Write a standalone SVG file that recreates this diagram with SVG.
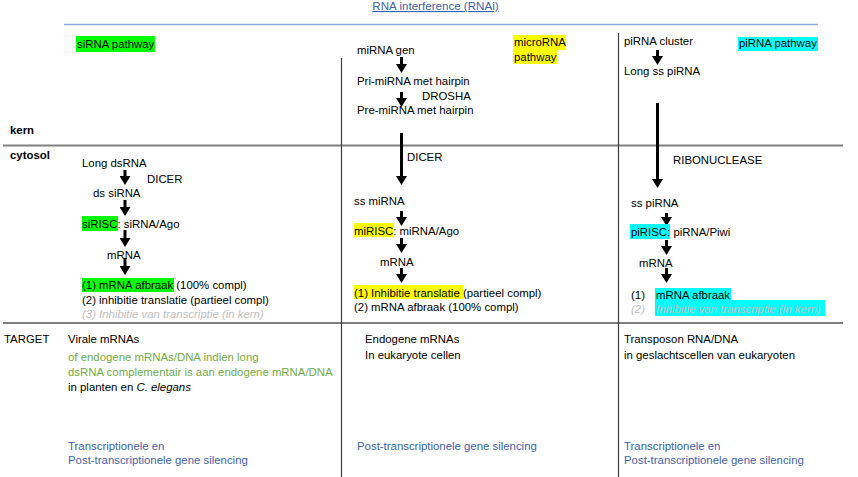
<svg xmlns="http://www.w3.org/2000/svg" width="858" height="477" viewBox="0 0 858 477">
<defs>
<style>
text{font-family:"Liberation Sans",Arial,sans-serif;font-size:11.4px;fill:#000}
.b{font-weight:bold}
.gi{font-style:italic;fill:#BFBFBF}
.gr{fill:#70AD47}
.bl{fill:#3E63AE}
.hg{fill:#00FF00}.hy{fill:#FFFF00}.hc{fill:#00FFFF}
.grid{stroke:#808080;fill:none}
.vgrid{stroke:#3F3F3F;fill:none}
.arr{stroke:#000;stroke-width:3;fill:none}
</style>
<marker id="ah" markerUnits="userSpaceOnUse" viewBox="0 0 9 11" markerWidth="9" markerHeight="11" refX="0" refY="5.5" orient="auto">
<path d="M0,0 L9,5.5 L0,11 Z" fill="#000"/>
</marker>
</defs>
<rect width="858" height="477" fill="#fff"/>
<g id="grid">
<line x1="64" y1="24.5" x2="818" y2="24.5" stroke="#8FAADC" stroke-width="1.5"/>
<line class="grid" x1="3" y1="145.5" x2="843" y2="145.5" stroke-width="2"/>
<line class="grid" x1="3" y1="323" x2="843" y2="323" stroke-width="2"/>
<line class="vgrid" x1="341.5" y1="58" x2="341.5" y2="477" stroke-width="1.2"/>
<line class="vgrid" x1="618.5" y1="33" x2="618.5" y2="477" stroke-width="1.2"/>
</g>
<g id="title">
<text x="435.5" y="10" text-anchor="middle" style="fill:#3E63AE;font-size:11.6px" text-decoration="underline">RNA interference (RNAi)</text>
</g>
<g id="row-labels">
<text class="b" x="10" y="134">kern</text>
<text class="b" x="10" y="159">cytosol</text>
<text x="4" y="343">TARGET</text>
</g>
<g id="connectors">
<line class="arr" x1="125" y1="170" x2="125" y2="176" marker-end="url(#ah)"/>
<line class="arr" x1="125" y1="200" x2="125" y2="207" marker-end="url(#ah)"/>
<line class="arr" x1="125" y1="230" x2="125" y2="238" marker-end="url(#ah)"/>
<line class="arr" x1="125" y1="258" x2="125" y2="266" marker-end="url(#ah)"/>
<line class="arr" x1="401.5" y1="57" x2="401.5" y2="64" marker-end="url(#ah)"/>
<line class="arr" x1="401.5" y1="92" x2="401.5" y2="98" marker-end="url(#ah)"/>
<line class="arr" x1="401.5" y1="133" x2="401.5" y2="176" marker-end="url(#ah)"/>
<line class="arr" x1="401.5" y1="211" x2="401.5" y2="217" marker-end="url(#ah)"/>
<line class="arr" x1="401.5" y1="238" x2="401.5" y2="244" marker-end="url(#ah)"/>
<line class="arr" x1="401.5" y1="268" x2="401.5" y2="274" marker-end="url(#ah)"/>
<line class="arr" x1="657.5" y1="50" x2="657.5" y2="56" marker-end="url(#ah)"/>
<line class="arr" x1="657.5" y1="103" x2="657.5" y2="179" marker-end="url(#ah)"/>
<line class="arr" x1="666.5" y1="213" x2="666.5" y2="217" marker-end="url(#ah)"/>
<line class="arr" x1="666.5" y1="240" x2="666.5" y2="246" marker-end="url(#ah)"/>
<line class="arr" x1="666.5" y1="268" x2="666.5" y2="274" marker-end="url(#ah)"/>
</g>
<g id="sirna-pathway">
<rect class="hg" x="76" y="36" width="79" height="16"/>
<text x="77" y="48">siRNA pathway</text>
</g>
<g id="long-dsrna"><text x="82" y="167">Long dsRNA</text></g>
<g id="dicer-1"><text x="147" y="183">DICER</text></g>
<g id="ds-sirna"><text x="93" y="197">ds siRNA</text></g>
<g id="sirisc">
<rect class="hg" x="82" y="216" width="36" height="15"/>
<text x="82" y="228">siRISC: siRNA/Ago</text>
</g>
<g id="mrna-1"><text x="107" y="259">mRNA</text></g>
<g id="si-outcomes">
<rect class="hg" x="82" y="278" width="92" height="14"/>
<text x="82" y="289">(1) mRNA afbraak (100% compl)</text>
<text x="82" y="304">(2) inhibitie translatie (partieel compl)</text>
<text class="gi" x="82" y="318">(3) Inhibitie van transcriptie (in kern)</text>
</g>
<g id="microrna-pathway">
<rect class="hy" x="513" y="35" width="53" height="15"/>
<rect class="hy" x="513" y="50" width="44" height="14"/>
<text x="514" y="46">microRNA</text>
<text x="514" y="61">pathway</text>
</g>
<g id="mirna-gen"><text x="357" y="54">miRNA gen</text></g>
<g id="pri-mirna"><text x="357" y="85">Pri-miRNA met hairpin</text></g>
<g id="drosha"><text x="422" y="100">DROSHA</text></g>
<g id="pre-mirna"><text x="357" y="114">Pre-miRNA met hairpin</text></g>
<g id="dicer-2"><text x="407" y="161">DICER</text></g>
<g id="ss-mirna"><text x="354" y="205">ss miRNA</text></g>
<g id="mirisc">
<rect class="hy" x="354" y="223" width="40" height="14"/>
<text x="354" y="235">miRISC: miRNA/Ago</text>
</g>
<g id="mrna-2"><text x="380" y="266">mRNA</text></g>
<g id="mi-outcomes">
<rect class="hy" x="354" y="285" width="109" height="14"/>
<text x="354" y="297">(1) Inhibitie translatie (partieel compl)</text>
<text x="354" y="311">(2) mRNA afbraak (100% compl)</text>
</g>
<g id="pirna-pathway">
<rect class="hc" x="738" y="37" width="80" height="14"/>
<text x="739" y="47">piRNA pathway</text>
</g>
<g id="pirna-cluster"><text x="624" y="45">piRNA cluster</text></g>
<g id="long-ss-pirna"><text x="624" y="75">Long ss piRNA</text></g>
<g id="ribonuclease"><text x="673" y="164">RIBONUCLEASE</text></g>
<g id="ss-pirna"><text x="631" y="207">ss piRNA</text></g>
<g id="pirisc">
<rect class="hc" x="630" y="224" width="40" height="15"/>
<text x="631" y="236">piRISC: piRNA/Piwi</text>
</g>
<g id="mrna-3"><text x="639" y="267">mRNA</text></g>
<g id="pi-outcomes">
<rect class="hc" x="655" y="288" width="76" height="12"/>
<rect class="hc" x="655" y="300" width="170" height="16"/>
<text x="631" y="299">(1)</text>
<text x="656" y="299">mRNA afbraak</text>
<text class="gi" x="631" y="313">(2)</text>
<text class="gi" x="656" y="313">Inhibitie van transcriptie (in kern)</text>
</g>
<g id="target-si">
<text x="68" y="343">Virale mRNAs</text>
<text class="gr" x="68" y="361">of endogene mRNAs/DNA indien long</text>
<text class="gr" x="68" y="376">dsRNA complementair is aan endogene mRNA/DNA</text>
<text x="68" y="391">in planten en <tspan font-style="italic">C. elegans</tspan></text>
</g>
<g id="silencing-si">
<text class="bl" x="68" y="450">Transcriptionele en</text>
<text class="bl" x="68" y="464">Post-transcriptionele gene silencing</text>
</g>
<g id="target-mi">
<text x="365" y="343">Endogene  mRNAs</text>
<text x="365" y="359">In eukaryote cellen</text>
</g>
<g id="silencing-mi">
<text class="bl" x="357" y="450">Post-transcriptionele gene silencing</text>
</g>
<g id="target-pi">
<text x="624" y="343">Transposon RNA/DNA</text>
<text x="624" y="359">in geslachtscellen van eukaryoten</text>
</g>
<g id="silencing-pi">
<text class="bl" x="624" y="450">Transcriptionele en</text>
<text class="bl" x="624" y="464">Post-transcriptionele gene silencing</text>
</g>
</svg>
